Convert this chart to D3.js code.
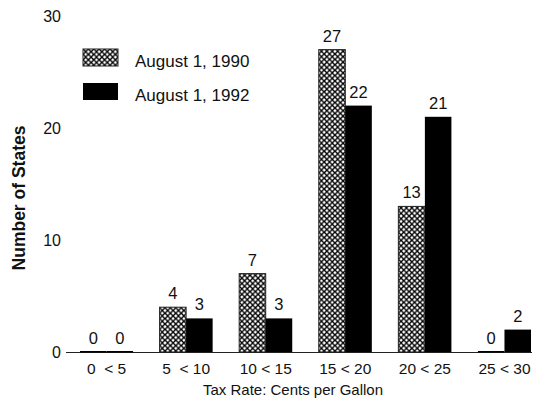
<!DOCTYPE html>
<meta charset="utf-8">
<title>State Gasoline Tax Rates</title>
<style>

body {
  margin: 0;
  background: #fff;
}

text {
  font-family: "Liberation Sans", Arial, sans-serif;
  fill: #111;
}

</style>
<body>
  <script src="https://d3js.org/d3.v7.min.js"></script>
  <script>

  const categories = ["0  < 5", "5  < 10", "10 < 15", "15 < 20", "20 < 25", "25 < 30"];
  const series = ["August 1, 1990", "August 1, 1992"];
  const values1990 = [0, 4, 7, 27, 13, 0];
  const values1992 = [0, 3, 3, 22, 21, 2];
  const yTicks = [0, 10, 20, 30];

  const width = 545;
  const height = 402;

  const svg = d3.select("body").append("svg")
      .attr("width", width)
      .attr("height", height);

  // cross hatch for the 1990 bars
  const pattern = svg.append("defs").append("pattern")
      .attr("id", "hatch")
      .attr("patternUnits", "userSpaceOnUse")
      .attr("width", 5.4)
      .attr("height", 5.4);
  pattern.append("rect")
      .attr("width", 5.4)
      .attr("height", 5.4)
      .attr("fill", "#fff");
  pattern.append("path")
      .attr("d", "M0,0L5.4,5.4M5.4,0L0,5.4")
      .attr("stroke", "#000")
      .attr("stroke-width", 1.4);

  const x = d3.scaleBand()
      .domain(categories)
      .range([80, 531])
      .paddingInner(1 / 3)
      .paddingOuter(0);

  const sub = d3.scaleBand()
      .domain(series)
      .range([0, x.bandwidth()]);

  const y = d3.scaleLinear()
      .domain([0, 30])
      .range([352, 16]);

  const fills = ["url(#hatch)", "#000"];

  const rows = categories.map((c, i) => ({
    cat: c,
    vals: [values1990[i], values1992[i]]
  }));

  // baseline
  svg.append("line")
      .attr("x1", 66)
      .attr("x2", x.range()[1] + 1)
      .attr("y1", y(0) + 0.5)
      .attr("y2", y(0) + 0.5)
      .attr("stroke", "#222")
      .attr("stroke-width", 1);

  // y tick labels, no axis line
  svg.selectAll(".ytick")
      .data(yTicks)
    .enter().append("text")
      .attr("class", "ytick")
      .attr("x", 61)
      .attr("y", d => y(d))
      .attr("dy", "0.36em")
      .attr("text-anchor", "end")
      .style("font-size", "16px")
      .text(d => d);

  const groups = svg.selectAll(".group")
      .data(rows)
    .enter().append("g")
      .attr("class", "group")
      .attr("transform", d => "translate(" + x(d.cat) + ",0)");

  groups.selectAll("rect")
      .data(d => d.vals.map((v, j) => ({ s: series[j], v: v, j: j })))
    .enter().append("rect")
      .attr("x", d => sub(d.s))
      .attr("width", sub.bandwidth())
      .attr("y", d => d.v > 0 ? y(d.v) : y(0) - 1)
      .attr("height", d => d.v > 0 ? y(0) - y(d.v) : 1.5)
      .attr("fill", d => d.v > 0 ? fills[d.j] : "#000")
      .attr("stroke", d => d.j === 0 && d.v > 0 ? "#222" : "none")
      .attr("stroke-width", 1);

  groups.selectAll(".val")
      .data(d => d.vals.map((v, j) => ({ s: series[j], v: v })))
    .enter().append("text")
      .attr("class", "val")
      .attr("x", d => sub(d.s) + sub.bandwidth() / 2)
      .attr("y", d => y(d.v) - 8)
      .attr("text-anchor", "middle")
      .style("font-size", "16.5px")
      .text(d => d.v);

  // category labels
  svg.selectAll(".xtick")
      .data(categories)
    .enter().append("text")
      .attr("class", "xtick")
      .attr("x", d => x(d) + x.bandwidth() / 2)
      .attr("y", 374)
      .attr("text-anchor", "middle")
      .style("font-size", "15.5px")
      .style("white-space", "pre")
      .text(d => d);

  svg.append("text")
      .attr("x", 293)
      .attr("y", 395)
      .attr("text-anchor", "middle")
      .style("font-size", "15px")
      .text("Tax Rate: Cents per Gallon");

  svg.append("text")
      .attr("transform", "translate(25,198)rotate(-90)")
      .attr("text-anchor", "middle")
      .style("font-size", "17.5px")
      .style("font-weight", "bold")
      .text("Number of States");

  // legend
  const legend = svg.selectAll(".legend")
      .data(series)
    .enter().append("g")
      .attr("class", "legend")
      .attr("transform", (d, i) => "translate(83," + (49 + i * 34) + ")");

  legend.append("rect")
      .attr("width", 35)
      .attr("height", 17)
      .attr("fill", (d, i) => fills[i])
      .attr("stroke", (d, i) => i === 0 ? "#222" : "none");

  legend.append("text")
      .attr("x", 52)
      .attr("y", 18)
      .style("font-size", "17px")
      .text(d => d);

  </script>
</body>
